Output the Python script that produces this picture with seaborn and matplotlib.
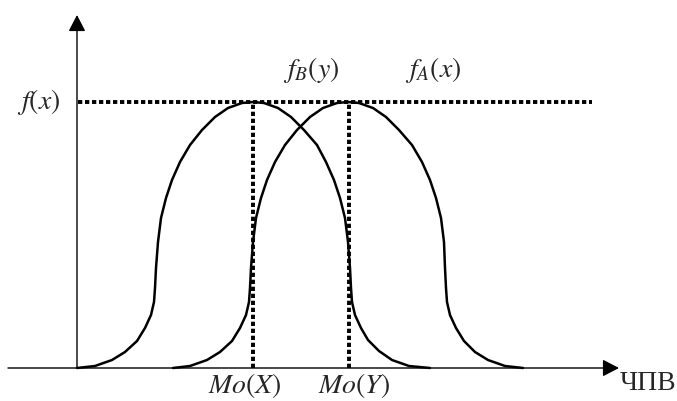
import pandas as pd
import seaborn as sns
import matplotlib.pyplot as plt

# curve points (x from the y-axis, y up from the x-axis, in px)
curve_b_x = [0, 18, 35, 48, 60, 68, 74, 77, 78, 79, 81, 84, 89, 95, 103, 113, 125, 138,
             151, 165, 176, 187, 201, 214, 227, 240, 249, 257, 263, 268, 271, 273, 274,
             275, 278, 284, 291, 302, 315, 332, 353]
curve_b_y = [0, 2, 8, 16, 27, 40, 53, 66, 80, 100, 126, 150, 170, 188, 206, 223, 238, 251,
             260, 265, 266, 265, 260, 251, 238, 223, 206, 188, 170, 150, 126, 100, 80,
             66, 53, 40, 28, 17, 8, 2, 0]

curve_a_x = [96, 113, 130, 143, 155, 163, 169, 172, 173, 174, 176, 179, 184, 190, 198,
             208, 220, 233, 246, 260, 271, 282, 296, 309, 322, 335, 345, 353, 359, 364,
             367, 368, 369, 370, 373, 379, 387, 398, 411, 428, 446]
curve_a_y = [0, 2, 8, 16, 27, 40, 53, 66, 80, 100, 126, 150, 170, 188, 206,
             223, 238, 251, 260, 265, 266, 265, 260, 251, 238, 223, 206, 188, 170, 150,
             126, 100, 80, 66, 53, 40, 27, 16, 8, 2, 0]

mode_x = [176, 272]
peak_y = 266
dotted_end = 515
x_axis_span = [-69, 542]
y_axis_top = 353

labels_mode = [r"$Mo(X)$", r"$Mo(Y)$"]
label_curves = [r"$f_B(y)$", r"$f_A(x)$"]

df = pd.concat([
    pd.DataFrame({"x": curve_b_x, "y": curve_b_y, "curve": "B"}),
    pd.DataFrame({"x": curve_a_x, "y": curve_a_y, "curve": "A"}),
])

sns.set_style("white")
plt.rcParams["mathtext.fontset"] = "stix"
plt.rcParams["font.family"] = ["Liberation Serif", "DejaVu Serif"]

fig = plt.figure(figsize=(6.77, 4.01), dpi=100)
ax = fig.add_axes([0, 0, 1, 1])
ax.set_xlim(-77, 600)
ax.set_ylim(-33, 368)
ax.axis("off")

sns.lineplot(data=df, x="x", y="y", hue="curve", units="curve", estimator=None,
             sort=False, palette=["black", "black"], lw=1.8, legend=False, ax=ax, zorder=3)

# dotted guides
dot = (0, (1.1, 0.7))
ax.plot([1, dotted_end], [peak_y, peak_y], color="black", lw=2.8, ls=dot, zorder=2)
for mx in mode_x:
    ax.plot([mx, mx], [0, peak_y], color="black", lw=2.8, ls=dot, zorder=2)

# axes with arrows
arrow = dict(arrowstyle="-|>,head_length=0.5,head_width=0.26", mutation_scale=20,
             lw=1.0, color="black", shrinkA=0, shrinkB=0)
ax.annotate("", xy=(x_axis_span[1], 0), xytext=(x_axis_span[0], 0), arrowprops=arrow, zorder=4)
ax.annotate("", xy=(0, y_axis_top), xytext=(0, 0), arrowprops=arrow, zorder=4)

fs = 20
ax.text(-17, peak_y, r"$f(x)$", fontsize=fs, ha="right", va="center")
ax.text(234, 298, label_curves[0], fontsize=fs, ha="center", va="center")
ax.text(356, 298, label_curves[1], fontsize=fs, ha="center", va="center")
ax.text(168, -18, labels_mode[0], fontsize=fs, ha="center", va="center")
ax.text(277, -18, labels_mode[1], fontsize=fs, ha="center", va="center")
ax.text(543, -16, "ЧПВ", fontsize=fs, ha="left", va="center")

fig.savefig("out.png", dpi=100)
